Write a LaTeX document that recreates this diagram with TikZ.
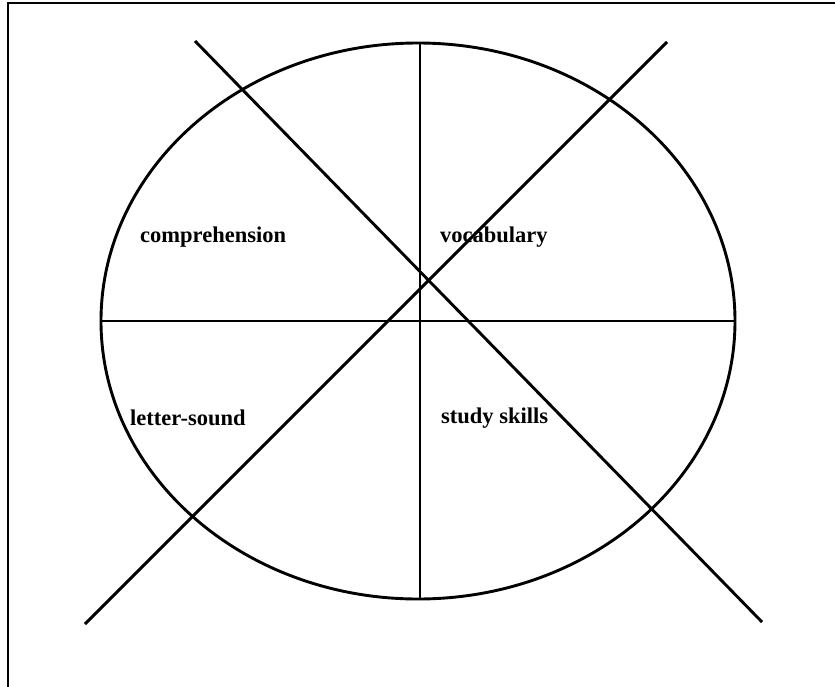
\documentclass[tikz,border=0pt]{standalone}
\usepackage{fontspec}
\setmainfont{Liberation Serif}
\usetikzlibrary{positioning}
\tikzset{
  divider/.style={line width=2.9pt, draw=black},
  frameline/.style={line width=2pt, draw=black},
  area/.style={anchor=west, inner sep=0pt, font=\bfseries\fontsize{22.5}{26}\selectfont}
}

\begin{document}
\begin{tikzpicture}[x=1pt, y=-1pt]
  \useasboundingbox (0,0) rectangle (835,686);
  \draw[frameline] (8,690) -- (8,3) -- (840,3);
  % circle with the four skill areas
  \draw[divider] (418,321) ellipse [x radius=317, y radius=278];
  \draw[divider] (101,321) -- (735,321);
  \draw[divider] (420,43) -- (420,599);
  \draw[divider] (195,41) -- (762,622);
  \draw[divider] (85,624) -- (667,42);
  \node[area] (comp) at (140,237) {comprehension};
  \node[area] (voc) at (440,237) {vocabulary};
  \node[area] (ls) at (130,418) {letter-sound};
  \node[area] (study) at (441,418) {study skills};
\end{tikzpicture}
\end{document}
